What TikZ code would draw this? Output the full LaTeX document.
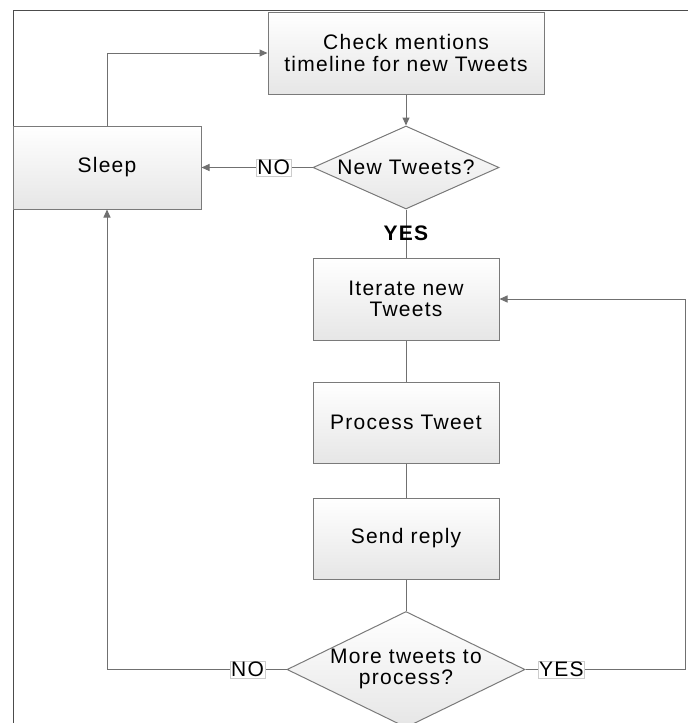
\documentclass[tikz,border=0pt]{standalone}
\usepackage{fontspec}
\setmainfont{Liberation Sans}[LetterSpace=6]
\usetikzlibrary{arrows.meta,shapes.geometric}
\definecolor{linegray}{HTML}{707070}
\definecolor{boxgray}{HTML}{7A7A7A}
\definecolor{shadegray}{HTML}{E6E6E6}
\begin{document}
\begin{tikzpicture}[x=1pt,y=-1pt,
  txt/.style={font=\fontsize{21pt}{21.5pt}\selectfont, align=center, text=black},
  procbox/.style={rectangle, draw=boxgray, line width=1pt, top color=white, bottom color=shadegray, inner sep=0pt},
  decide/.style={diamond, draw=boxgray, line width=1pt, top color=white, bottom color=shadegray, inner sep=0pt},
  conn/.style={draw=linegray, line width=1pt},
  arr/.style={conn, -{Triangle[length=8pt,width=7pt]}},
  lbl/.style={txt, fill=white, draw=black!20, line width=0.4pt, inner sep=1pt},
  ylbl/.style={txt, font=\fontsize{21pt}{21.5pt}\selectfont\bfseries, inner sep=0pt}
]
\useasboundingbox (0,0) rectangle (688,723);
% frame
\coordinate (fbl) at (13,723);
\coordinate (ftl) at (13,10);
\coordinate (ftr) at (688,10);
\draw[draw=black!70, line width=1pt] (fbl) -- (ftl) -- (ftr);

% nodes
\node[procbox, minimum width=276pt, minimum height=82pt] (check) at (406,53) {};
\node[txt] at (check) {Check mentions\\timeline for new Tweets};

\node[decide, minimum width=186pt, minimum height=83pt] (d1) at (406,167.5) {};
\node[txt] (d1t) at (d1) {New Tweets?};

\node[procbox, minimum width=188pt, minimum height=83pt] (sleep) at (107,167.5) {};
\node[txt] (sleept) at (sleep) {Sleep};

\node[procbox, minimum width=186pt, minimum height=82pt] (iter) at (406,299) {};
\node[txt] (itert) at (iter) {Iterate new\\Tweets};

\node[procbox, minimum width=186pt, minimum height=81pt] (proc) at (406,422.5) {};
\node[txt] (proct) at (proc) {Process Tweet};

\node[procbox, minimum width=186pt, minimum height=81pt] (send) at (406,538.5) {};
\node[txt] (sendt) at (send) {Send reply};

\node[decide, minimum width=238pt, minimum height=116pt] (d2) at (406,669.5) {};
\node[txt] (d2t) at (406,669) {More tweets to\\process?};

\coordinate (nocorner) at (107,669.5);
\coordinate (yescorner) at (685,669.5);

% connectors
\draw[arr] (check.south) -- (d1.north);
\draw[arr] (d1.west) -- node[lbl, pos=0.35] {NO} (sleep.east);
\draw[arr] (sleep.north) |- (check.west);
\draw[conn] (d1.south) -- node[ylbl, pos=0.5] {YES} (iter.north);
\draw[conn] (iter.south) -- (proc.north);
\draw[conn] (proc.south) -- (send.north);
\draw[conn] (send.south) -- (d2.north);
\draw[arr] (d2.west) -- node[lbl, pos=0.217] {NO} (nocorner) -- (sleep.south);
\draw[arr] (d2.east) -- node[lbl, pos=0.225] {YES} (yescorner) |- (iter.east);
\end{tikzpicture}
\end{document}
